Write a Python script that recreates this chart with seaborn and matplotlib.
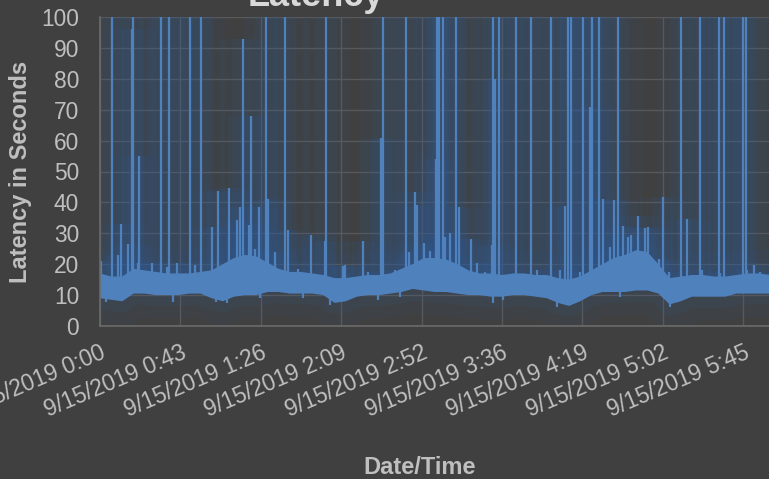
"""Latency over time, dark Excel-style line chart."""

import matplotlib
matplotlib.use("Agg")
import matplotlib.pyplot as plt
import matplotlib.patheffects as pe
import pandas as pd
import seaborn as sns

# minutes after 9/15/2019 0:00, sampled every 6 minutes (band = min/max of the noisy signal)
BIN_MINUTES = list(range(0, 361, 6))
BAND_LOW = [9, 8.5, 8, 10.5, 10.5, 10, 10, 10, 10.5, 10.5,
            9, 8, 9.5, 10, 10, 11, 11, 10.5, 10.5, 10.5,
            10, 7.5, 8, 9.5, 10, 10, 10.5, 11, 12, 11.5,
            11, 11, 10.5, 10, 10, 9.5, 9.5, 10, 10, 9.5,
            9, 7.5, 6.5, 8, 10, 11, 11, 11, 11.5, 11.5,
            10.5, 7, 8, 9.5, 9.5, 9.5, 9.5, 10.5, 10.5, 10.5,
            10.5]
BAND_HIGH = [17, 16, 16, 18.5, 18, 17.5, 17, 17, 17, 17.5,
             18, 20, 22, 23, 22.5, 20.5, 18.5, 17.5, 17.5, 17,
             16.5, 15.5, 15.5, 16, 16.5, 16.5, 17, 18.5, 20, 22,
             22, 21.5, 20, 18, 17, 17, 16.5, 17, 17, 16.5,
             16.5, 15.5, 15, 16, 18, 20, 22, 23, 24.5, 24,
             20, 15.5, 16, 16.5, 16.5, 16, 16, 16.5, 17, 17,
             16.5]

# upward spikes (minutes, latency); the ones marked 120 run off the top of the chart
SPIKE_MINUTES = [0.3, 6.3, 9.8, 11.1, 15.0, 17.4, 17.9, 20.6, 21.1, 27.8,
                 32.6, 35.8, 37.2, 41.2, 48.4, 51.0, 54.3, 60.0, 63.2, 69.3,
                 73.4, 75.2, 77.0, 80.3, 81.0, 83.3, 85.3, 89.2, 90.1, 94.0,
                 99.4, 101.2, 106.2, 113.2, 120.9, 121.4, 130.7, 131.6, 141.1, 144.2,
                 151.0, 152.2, 158.5, 164.4, 166.2, 169.2, 170.2, 174.1, 177.3, 180.5,
                 181.2, 182.3, 184.5, 185.4, 188.1, 191.3, 193.0, 199.2, 202.4, 206.9,
                 210.5, 211.0, 212.2, 214.4, 223.4, 231.6, 234.6, 242.4, 247.2, 249.8,
                 251.6, 253.1, 257.9, 259.5, 263.3, 264.2, 267.9, 270.1, 274.0, 276.2,
                 278.2, 281.2, 283.9, 285.3, 289.2, 292.8, 294.6, 296.4, 300.5, 302.3,
                 305.9, 312.2, 315.2, 322.4, 323.3, 332.3, 333.1, 335.3, 345.3, 346.9,
                 347.5, 351.4, 354.6]
SPIKE_PEAKS = [21, 120, 23, 33, 26.5, 96, 120, 20.5, 55, 20.4,
               120, 19.2, 120, 20.5, 120, 19.7, 120, 32, 43.7, 44.7,
               34.3, 38.5, 93, 32.7, 68, 25, 38.5, 120, 41, 24,
               120, 31, 18.4, 29.5, 27.5, 120, 19.5, 19.7, 27.6, 17.6,
               61, 120, 18, 120, 24, 43.5, 39, 27, 24.4, 54,
               120, 120, 120, 28.9, 30, 120, 38.5, 28, 20.4, 17.6,
               26.2, 120, 80, 120, 120, 120, 18, 120, 18, 38.8,
               120, 120, 17.5, 120, 71, 120, 120, 41, 25.7, 40.8,
               120, 32.5, 28.9, 29.5, 35.6, 31.7, 32, 21.4, 21.7, 41.8,
               17.6, 120, 34.5, 120, 18, 120, 17, 120, 120, 120,
               18, 19.7, 17.6]

# short downward dips below the band (minutes, latency)
DIP_MINUTES = [3.2, 39.4, 62.3, 68.1, 86.0, 109.2, 123.6, 149.5, 161.2, 211.3,
               216.7, 245.4, 279.4, 306.3]
DIP_VALUES = [7.9, 7.9, 7.9, 7.4, 9, 9, 6.8, 8.4, 9.5, 7.5,
              8.4, 6.3, 9.3, 6.3]

TICK_MINUTES = [0, 43.2, 86.4, 129.6, 172.8, 216, 259.2, 302.4, 345.6]
TICK_LABELS = ["9/15/2019 0:00", "9/15/2019 0:43", "9/15/2019 1:26",
               "9/15/2019 2:09", "9/15/2019 2:52", "9/15/2019 3:36",
               "9/15/2019 4:19", "9/15/2019 5:02", "9/15/2019 5:45"]

BG = "#404040"
LINE = "#4f81bd"
GLOW = "#2f5f9e"
TEXT = "#bfbfbf"

sns.set_theme(style="dark", rc={
    "figure.facecolor": BG,
    "axes.facecolor": BG,
    "axes.edgecolor": "#6b6b6b",
    "grid.color": "#595959",
})
plt.rcParams["font.family"] = ["Liberation Sans", "DejaVu Sans"]

fig = plt.figure(figsize=(7.69, 4.79), dpi=100)
ax = fig.add_axes([100 / 769, 1 - 326 / 479, 669 / 769, 309 / 479])

# soft glow strokes only (no Normal), drawn underneath everything
glow_only = [pe.Stroke(linewidth=34, foreground=GLOW, alpha=0.07),
             pe.Stroke(linewidth=16, foreground=GLOW, alpha=0.10)]

band = pd.DataFrame({
    "minutes": BIN_MINUTES + BIN_MINUTES,
    "latency": BAND_LOW + BAND_HIGH,
})
sns.lineplot(data=band, x="minutes", y="latency", estimator="mean",
             errorbar=("pi", 100), color=LINE, lw=0.8,
             err_kws={"alpha": 1, "lw": 0, "zorder": 2.2}, ax=ax, zorder=2.2)
ax.collections[-1].set_path_effects(glow_only + [pe.Normal()])

halo = ax.vlines(SPIKE_MINUTES, 13, SPIKE_PEAKS, color=LINE, lw=1.6, zorder=2)
halo.set_path_effects(glow_only)
ax.vlines(SPIKE_MINUTES, 13, SPIKE_PEAKS, color=LINE, lw=1.6, zorder=2.5)
ax.vlines(DIP_MINUTES, 13, DIP_VALUES, color=LINE, lw=1.6, zorder=2.5)

ax.set_xlim(0, 359.4)
ax.set_ylim(0, 100)
ax.set_yticks(range(0, 101, 10))
ax.set_xticks(TICK_MINUTES)
ax.set_xticklabels(TICK_LABELS, rotation=23, ha="right", va="top",
                   rotation_mode="anchor")
ax.grid(True, color="#595959", lw=1.0)
ax.set_axisbelow(True)
ax.tick_params(axis="both", length=0, colors=TEXT, labelsize=16.4)
ax.tick_params(axis="y", pad=15)
ax.tick_params(axis="x", pad=11)
for side in ["top", "right"]:
    ax.spines[side].set_visible(False)
for side in ["left", "bottom"]:
    ax.spines[side].set_color("#6b6b6b")
    ax.spines[side].set_linewidth(1.2)

ax.set_ylabel("Latency in Seconds", fontsize=17, weight="bold", color=TEXT)
ax.yaxis.set_label_coords(-0.101, 0.5)
ax.set_xlabel("Date/Time", fontsize=17, weight="bold", color=TEXT)
ax.xaxis.set_label_coords(0.478, -0.42)

fig.text(316 / 769, 1 - 6 / 479, "Latency", ha="center", va="baseline",
         fontsize=26, weight="bold", color="#d9d9d9")

fig.savefig("out.png", dpi=100, facecolor=BG)
